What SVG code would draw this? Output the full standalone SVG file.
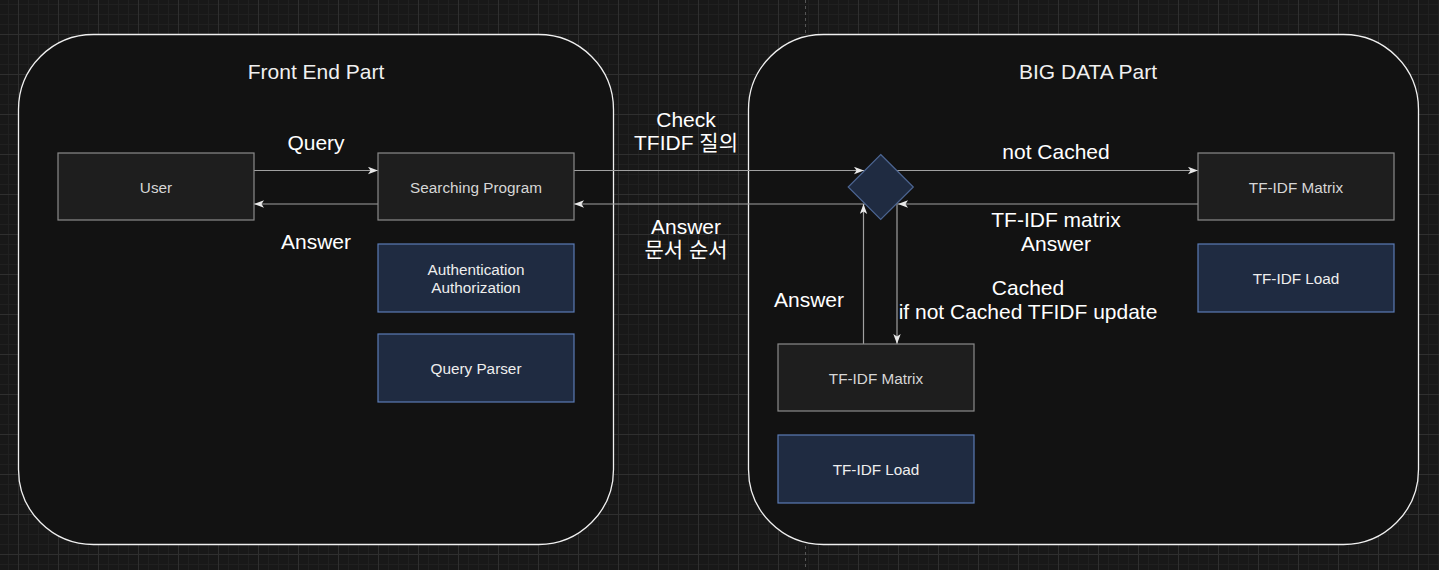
<svg xmlns="http://www.w3.org/2000/svg" width="1439" height="570" viewBox="0 0 1439 570">
<style>
  .container{fill:#121212;stroke:#f0f0f0;stroke-width:1.3}
  .title{font-family:"Liberation Sans","Noto Sans CJK KR",sans-serif;font-size:21px;fill:#f0f0f0;text-anchor:middle}
  .box{fill:#1e1e1e;stroke:#8a8a8a;stroke-width:1.2}
  .blue{fill:#1f2b41;stroke:#5a7bb5;stroke-width:1.2}
  .dia{fill:#1f2b41;stroke:#4c6592;stroke-width:1.2}
  .ntext{font-family:"Liberation Sans","Noto Sans CJK KR",sans-serif;font-size:15.3px;fill:#d6d6d6;text-anchor:middle}
  .btext{font-family:"Liberation Sans","Noto Sans CJK KR",sans-serif;font-size:15.3px;fill:#eeeeee;text-anchor:middle}
  .edge{fill:none;stroke:#a0a0a0;stroke-width:1.2;marker-end:url(#arr)}
  .elabel{font-family:"Liberation Sans","Noto Sans CJK KR",sans-serif;font-size:21px;fill:#ffffff;text-anchor:middle}
</style>
<defs>
  <pattern id="grid" patternUnits="userSpaceOnUse" x="18" y="34" width="40" height="40">
    <rect width="40" height="40" fill="#181818"/>
    <path d="M10.5,0V40M20.5,0V40M30.5,0V40M0,10.5H40M0,20.5H40M0,30.5H40" stroke="#202020" stroke-width="1"/>
    <path d="M0.5,0V40M0,0.5H40" stroke="#2f2f2f" stroke-width="1"/>
  </pattern>
  <marker id="arr" markerUnits="userSpaceOnUse" markerWidth="10" markerHeight="8" refX="10" refY="4" orient="auto">
    <path d="M0,0.3 L10,4 L0,7.7 L2.5,4 Z" fill="#e8e8e8"/>
  </marker>
</defs>
<rect width="1439" height="570" fill="url(#grid)"/>
<line x1="805.5" y1="0" x2="805.5" y2="570" stroke="#555555" stroke-width="1" stroke-dasharray="3,3"/>

<g id="frontend">
  <rect class="container" x="18.5" y="34.5" width="595" height="510" rx="75" ry="75"/>
  <text class="title" x="316" y="78.5">Front End Part</text>
</g>
<g id="bigdata">
  <rect class="container" x="748.5" y="34.5" width="670" height="510" rx="75" ry="75"/>
  <text class="title" x="1088" y="78.5">BIG DATA Part</text>
</g>

<g id="connectors">
  <path class="edge" d="M254,170.5 H378"/>
  <path class="edge" d="M378,204 H254"/>
  <path class="edge" d="M574,170.5 H864"/>
  <path class="edge" d="M896,170.5 H1198"/>
  <path class="edge" d="M1198,204 H898"/>
  <path class="edge" d="M865,204 H574"/>
  <path class="edge" d="M863.5,344 V204"/>
  <path class="edge" d="M897,203 V344"/>
  <text class="elabel" x="316" y="149.5">Query</text>
  <text class="elabel" x="316" y="248.5">Answer</text>
  <text class="elabel" x="686" y="126.5">Check</text>
  <text class="elabel" x="686" y="149.5">TFIDF 질의</text>
  <text class="elabel" x="686" y="233.5">Answer</text>
  <text class="elabel" x="686" y="256.5">문서 순서</text>
  <text class="elabel" x="1056" y="158.5">not Cached</text>
  <text class="elabel" x="1056" y="226.5">TF-IDF matrix</text>
  <text class="elabel" x="1056" y="250.5">Answer</text>
  <text class="elabel" x="809" y="306.5">Answer</text>
  <text class="elabel" x="1028" y="294.5">Cached</text>
  <text class="elabel" x="1028" y="318.5">if not Cached TFIDF update</text>
</g>

<g id="user">
  <rect class="box" x="58" y="153" width="196" height="67"/>
  <text class="ntext" x="156" y="192.5">User</text>
</g>
<g id="searching-program">
  <rect class="box" x="378" y="153" width="196" height="67"/>
  <text class="ntext" x="476" y="192.5">Searching Program</text>
</g>
<g id="auth">
  <rect class="blue" x="378" y="244" width="196" height="68"/>
  <text class="btext" x="476" y="275">Authentication</text>
  <text class="btext" x="476" y="293">Authorization</text>
</g>
<g id="query-parser">
  <rect class="blue" x="378" y="334" width="196" height="68"/>
  <text class="btext" x="476" y="374">Query Parser</text>
</g>
<g id="decision">
  <path class="dia" d="M880.7,154.5 L913.3,187 L880.7,219.5 L848.2,187 Z"/>
</g>
<g id="tfidf-matrix-right">
  <rect class="box" x="1198" y="153" width="196" height="67"/>
  <text class="ntext" x="1296" y="192.5">TF-IDF Matrix</text>
</g>
<g id="tfidf-load-right">
  <rect class="blue" x="1198" y="244" width="196" height="68"/>
  <text class="btext" x="1296" y="284">TF-IDF Load</text>
</g>
<g id="tfidf-matrix-bottom">
  <rect class="box" x="778" y="344" width="196" height="67"/>
  <text class="ntext" x="876" y="384">TF-IDF Matrix</text>
</g>
<g id="tfidf-load-bottom">
  <rect class="blue" x="778" y="435" width="196" height="68"/>
  <text class="btext" x="876" y="475">TF-IDF Load</text>
</g>
</svg>
